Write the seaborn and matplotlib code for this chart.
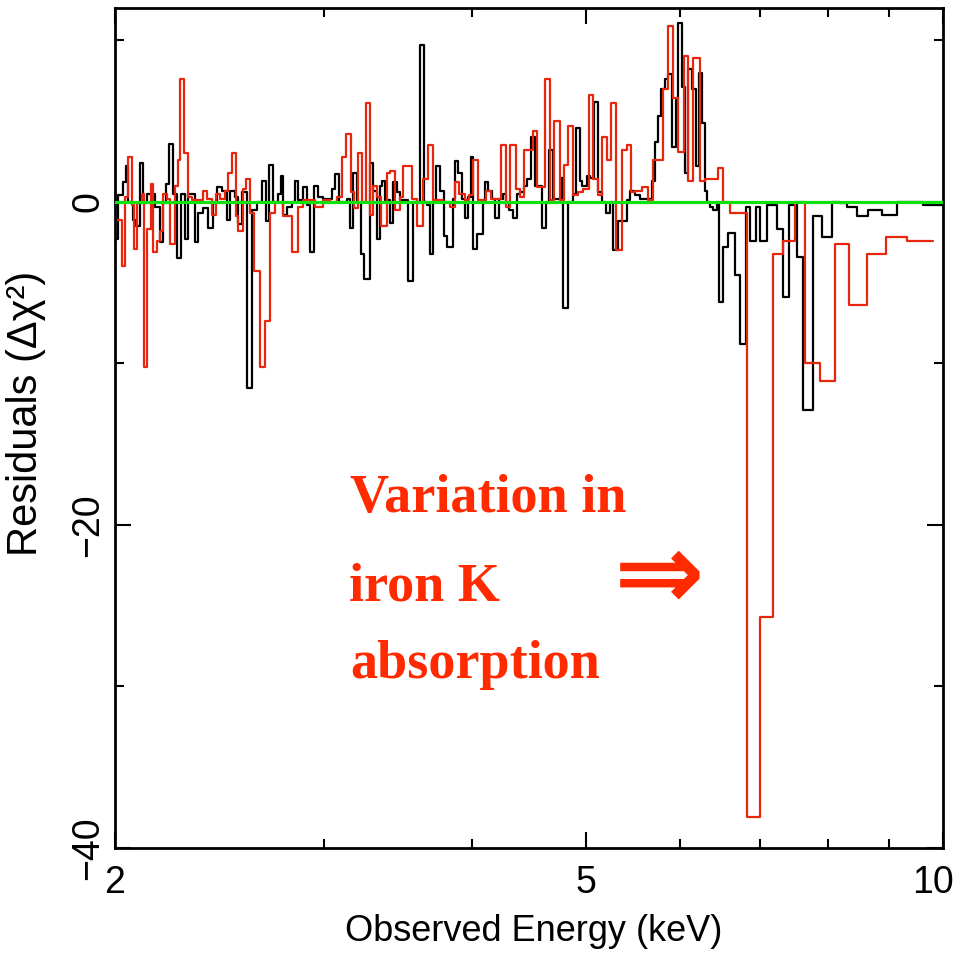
import pandas as pd
import seaborn as sns
import matplotlib
matplotlib.use('Agg')
import matplotlib.pyplot as plt
from matplotlib.ticker import NullFormatter
from matplotlib.transforms import ScaledTranslation

# bin edges (keV) and residuals (delta chi^2), first observation (black)
black_edges = [2.000, 2.012, 2.031, 2.043, 2.051, 2.071, 2.083, 2.100, 2.112, 2.128,
               2.162, 2.183, 2.196, 2.208, 2.221, 2.239, 2.256, 2.274, 2.292, 2.305,
               2.337, 2.350, 2.373, 2.396, 2.420, 2.439, 2.462, 2.486, 2.501, 2.525,
               2.540, 2.560, 2.585, 2.610, 2.636, 2.662, 2.682, 2.698, 2.719, 2.746,
               2.762, 2.772, 2.794, 2.821, 2.838, 2.854, 2.882, 2.905, 2.922, 2.945,
               2.967, 2.997, 3.050, 3.067, 3.091, 3.140, 3.158, 3.177, 3.201, 3.226,
               3.245, 3.283, 3.303, 3.328, 3.347, 3.361, 3.380, 3.413, 3.433, 3.460,
               3.480, 3.535, 3.569, 3.618, 3.647, 3.668, 3.689, 3.711, 3.733, 3.761,
               3.791, 3.813, 3.858, 3.873, 3.896, 3.926, 3.949, 3.972, 3.995, 4.011,
               4.042, 4.090, 4.106, 4.130, 4.162, 4.186, 4.219, 4.252, 4.277, 4.302,
               4.336, 4.369, 4.394, 4.429, 4.455, 4.489, 4.525, 4.587, 4.623, 4.650,
               4.686, 4.760, 4.778, 4.825, 4.872, 4.900, 4.938, 4.958, 5.006, 5.035,
               5.075, 5.115, 5.154, 5.195, 5.235, 5.266, 5.317, 5.411, 5.443, 5.496,
               5.549, 5.680, 5.714, 5.747, 5.781, 5.826, 5.860, 5.906, 5.952, 5.975,
               6.021, 6.057, 6.092, 6.140, 6.188, 6.224, 6.260, 6.297, 6.321, 6.358,
               6.396, 6.446, 6.471, 6.521, 6.585, 6.675, 6.740, 6.819, 6.872, 6.953,
               7.007, 7.103, 7.243, 7.328, 7.414, 7.530, 7.618, 7.768, 7.905, 8.060,
               8.186, 8.298, 8.461, 8.644, 8.882, 9.145, 9.619, 9.980]
black_resid = [-2.3, 0.4, 1.2, 2.2, 0.0, -1.1, -1.5, 2.4, -0.1, 0.5,
               -0.3, -2.5, -0.1, 1.1, 3.6, 0.5, -3.5, 0.5, -2.3, 0.5,
               -2.5, -0.7, -0.4, -1.6, 0.0, 0.9, 0.7, -1.1, 0.7, 0.3,
               -1.4, 0.6, -11.5, -0.5, 0.0, 1.3, -1.2, 2.3, 0.0, 0.5,
               1.6, -0.8, -0.3, 0.0, 1.3, 0.1, 0.9, -0.2, -3.1, 1.0,
               0.3, 0.2, 0.8, 1.7, 0.0, 0.2, -1.6, 1.8, -0.1, -3.2,
               -4.8, 2.4, 0.7, -2.3, 1.0, 1.3, 0.1, -1.3, 1.2, 0.6,
               0.1, -4.9, 0.0, 9.7, 0.0, -0.2, -3.2, 0.0, 2.2, 0.7,
               -2.1, -2.8, 0.2, 2.5, 1.8, 0.2, -1.0, 0.3, 2.8, -2.9,
               -2.0, 0.0, 1.2, 0.7, 0.2, -1.0, 0.2, 0.5, 0.0, -0.5,
               -1.0, 0.5, 0.6, 1.0, 1.4, 4.0, 1.0, -1.6, 0.0, 3.2,
               0.2, 1.5, -6.6, 0.0, 0.5, 4.6, 1.3, 1.0, 1.6, 1.5,
               6.2, 0.6, 0.0, -0.7, 0.0, -3.0, -1.2, 0.1, 0.7, 0.4,
               0.2, 1.3, 3.7, 5.3, 7.0, 7.6, 7.9, 3.4, 6.3, 11.1,
               7.1, 1.8, 8.2, 7.0, 2.2, 8.0, 4.9, 0.7, 0.0, -0.3,
               -0.5, 0.0, -6.2, -2.8, -1.9, -4.5, -8.8, -0.3, -2.4, -0.3,
               -2.4, -0.2, -1.7, -5.9, -0.2, -3.4, -12.9, -0.9, -2.2, 0.0,
               -0.1, -0.3, -0.85, -0.5, -0.8, 0.0, -0.2]

# second observation (red)
red_edges = [2.004, 2.028, 2.039, 2.051, 2.067, 2.075, 2.087, 2.108, 2.116, 2.128,
             2.145, 2.153, 2.170, 2.183, 2.196, 2.213, 2.226, 2.247, 2.261, 2.269,
             2.287, 2.305, 2.323, 2.373, 2.392, 2.415, 2.434, 2.453, 2.477, 2.491,
             2.511, 2.530, 2.540, 2.565, 2.580, 2.600, 2.620, 2.651, 2.677, 2.703,
             2.730, 2.772, 2.821, 2.854, 2.882, 2.950, 2.997, 3.037, 3.079, 3.109,
             3.134, 3.164, 3.183, 3.208, 3.233, 3.258, 3.283, 3.303, 3.328, 3.354,
             3.394, 3.413, 3.447, 3.480, 3.501, 3.562, 3.597, 3.640, 3.675, 3.711,
             3.784, 3.836, 3.873, 3.903, 3.949, 3.980, 4.011, 4.050, 4.114, 4.154,
             4.235, 4.277, 4.310, 4.361, 4.394, 4.429, 4.507, 4.543, 4.614, 4.659,
             4.695, 4.750, 4.787, 4.825, 4.872, 4.919, 4.968, 5.026, 5.065, 5.115,
             5.154, 5.205, 5.245, 5.297, 5.359, 5.411, 5.453, 5.496, 5.571, 5.636,
             5.692, 5.803, 5.860, 5.917, 5.975, 6.045, 6.092, 6.152, 6.236, 6.297,
             6.458, 6.521, 6.610, 6.832, 7.007, 7.187, 7.328, 7.501, 7.648, 7.874,
             8.107, 8.331, 8.627, 8.952, 9.325, 9.808]
red_resid = [-1.1, -4.0, 0.3, 2.8, -0.2, -2.9, -0.1, 0.5, -10.2, -1.7,
             1.1, -3.1, -2.4, -1.8, 0.5, 0.2, -2.6, 1.0, 2.6, 7.6,
             3.0, 0.3, 0.1, 0.7, 0.2, -0.8, 0.5, 0.2, 0.7, 1.8,
             3.0, -0.9, -1.8, 0.8, 1.4, -0.7, -4.3, -10.2, -7.4, -0.7,
             0.0, -0.9, -3.1, -0.3, 0.1, -0.3, 0.1, 0.0, 0.3, 2.8,
             4.2, 0.6, -0.4, 3.0, 0.0, 6.1, -0.8, 1.0, 0.3, -1.5,
             1.8, 1.9, -0.5, 0.3, 2.2, 0.2, -1.5, 1.4, 3.5, 0.1,
             0.0, -0.3, 1.2, 0.5, 0.1, 0.4, 2.6, 0.1, 0.7, 0.2,
             3.5, -0.3, 3.5, 0.8, 0.3, 3.2, 4.4, 0.9, 7.6, 0.1,
             5.0, 0.1, 2.3, 4.7, 0.4, 0.6, 0.8, 6.6, 1.4, 0.4,
             4.0, 2.6, 6.1, -3.0, 3.2, 3.5, 0.6, 0.7, 0.9, 0.1,
             2.6, 7.0, 10.9, 6.4, 3.1, 9.0, 1.3, 8.9, 1.3, 1.4,
             2.1, 0.0, -0.7, -38.1, -25.7, -3.2, -2.4, 0.0, -10.0, -11.1,
             -2.6, -6.4, -3.2, -2.2, -2.4]

x_major = [2, 5, 10]
x_major_labels = ['2', '5', '10']
x_minor = [3, 4, 6, 7, 8, 9]
y_major = [-40, -20, 0]
y_major_labels = ['\u221240', '\u221220', '0']
y_minor = [-30, -10, 10]


def to_steps(edges, resid):
    # repeat the last value so steps-post closes the final bin
    return pd.DataFrame({'energy': edges, 'resid': list(resid) + [resid[-1]]})


sns.set_theme(style='ticks')
plt.rcParams['font.family'] = ['Liberation Sans', 'DejaVu Sans']
plt.rcParams['text.color'] = 'black'
plt.rcParams['axes.labelcolor'] = 'black'
plt.rcParams['xtick.color'] = 'black'
plt.rcParams['ytick.color'] = 'black'

fig, ax = plt.subplots(figsize=(9.54, 9.55), dpi=100)
fig.subplots_adjust(left=0.1205, right=0.9885, bottom=0.112, top=0.9916)

sns.lineplot(data=to_steps(black_edges, black_resid), x='energy', y='resid',
             color='black', lw=1.6, drawstyle='steps-post',
             estimator=None, sort=False, ax=ax)
sns.lineplot(data=to_steps(red_edges, red_resid), x='energy', y='resid',
             color='#e8260e', lw=1.6, drawstyle='steps-post',
             estimator=None, sort=False, ax=ax)
ax.axhline(0, color='#10e010', lw=2.3, zorder=5)

ax.set_xscale('log')
ax.set_xlim(2, 10)
ax.set_ylim(-40, 12)

ax.set_xticks(x_major)
ax.set_xticklabels(x_major_labels)
ax.set_xticks(x_minor, minor=True)
ax.xaxis.set_minor_formatter(NullFormatter())
ax.set_yticks(y_major)
ax.set_yticklabels(y_major_labels, rotation=90, va='center')
ax.set_yticks(y_minor, minor=True)

ax.tick_params(which='both', direction='in', top=True, right=True,
               width=1.5, colors='black', labelsize=27)
ax.tick_params(which='major', length=11.5)
ax.tick_params(which='minor', length=6.5)
ax.tick_params(axis='x', which='major', pad=12)
ax.tick_params(axis='y', which='major', pad=6)
for sp in ax.spines.values():
    sp.set_linewidth(2)
    sp.set_color('black')

# nudge the "10" label so it stays inside the figure
last = ax.get_xticklabels()[-1]
last.set_transform(last.get_transform() + ScaledTranslation(-0.1, 0, fig.dpi_scale_trans))

ax.set_xlabel('Observed Energy (keV)', fontsize=26)
ax.set_ylabel('Residuals (\u0394\u03c7\u00b2)', fontsize=30)
ax.xaxis.set_label_coords(0.506, -0.078)
ax.yaxis.set_label_coords(-0.083, 0.518)

note = dict(color='#ff2a00', fontsize=39, fontweight='bold',
            family=['Liberation Serif', 'DejaVu Serif'], transform=ax.transAxes)
ax.text(0.284, 0.400, 'Variation in', **note)
ax.text(0.283, 0.295, 'iron K', **note)
ax.text(0.284, 0.2024, 'absorption', **note)
ax.text(0.657, 0.321, '\u21d2', color='#ff2a00', fontsize=78, fontweight='bold',
        family=['DejaVu Sans'], ha='center', va='center', transform=ax.transAxes)

fig.savefig('out.png', dpi=100)
